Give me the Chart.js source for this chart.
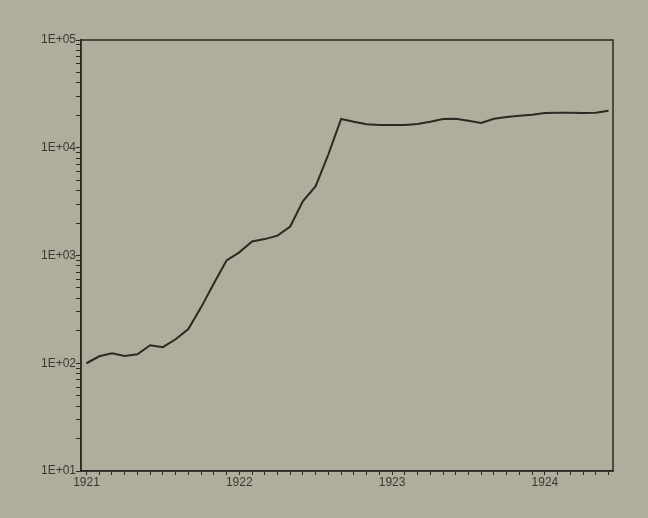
<!DOCTYPE html>
<html>
<head>
<meta charset="utf-8">
<script src="https://cdn.jsdelivr.net/npm/chart.js@4/dist/chart.umd.min.js"></script>
<style>
    html, body { margin: 0; padding: 0; background: #afad9b; }
    #wrap { width: 648px; height: 518px; position: relative; }
</style>
</head>
<body>
<div id="wrap"><canvas id="chart"></canvas></div>
<script>
// month index counted from Jan 1921
const yearLabels = ['1921', '1922', '1923', '1924'];
const months = [
    0, 1, 2, 3, 4, 5, 6, 7, 8, 9, 10, 11,
    12, 13, 14, 15, 16, 17, 18, 19, 20, 21, 22, 23,
    24, 25, 26, 27, 28, 29, 30, 31, 32, 33, 34, 35,
    36, 37, 38, 39, 40, 41
];
const values = [
    100, 116, 124, 117, 121, 147, 141, 167, 208, 330, 550, 900,
    1070, 1350, 1420, 1530, 1860, 3200, 4400, 8700, 18500, 17400, 16500, 16300,
    16300, 16300, 16600, 17400, 18500, 18600, 17800, 17000, 18600, 19300, 19800, 20200,
    21000, 21100, 21100, 21000, 21100, 22000
];
const decades = [10, 100, 1000, 10000, 100000];

const ink = '#2b2a22';
const font = { family: '"Liberation Sans", Arial, sans-serif', size: 12 };

// frame round the plot area
const framePlugin = {
    id: 'frame',
    afterDraw(chart) {
        const a = chart.chartArea;
        const ctx = chart.ctx;
        ctx.save();
        ctx.strokeStyle = ink;
        ctx.lineWidth = 1.5;
        ctx.strokeRect(a.left, a.top, a.right - a.left, a.bottom - a.top);
        ctx.restore();
    }
};

const ctx = document.getElementById('chart').getContext('2d');
new Chart(ctx, {
    type: 'line',
    data: {
        datasets: [{
            data: months.map((m, i) => ({ x: m, y: values[i] })),
            borderColor: ink,
            borderWidth: 2,
            pointRadius: 0,
            tension: 0,
            fill: false
        }]
    },
    options: {
        responsive: true,
        maintainAspectRatio: false,
        animation: false,
        layout: { padding: { left: 0, right: 35, top: 40, bottom: 0 } },
        plugins: {
            legend: { display: false },
            tooltip: { enabled: false }
        },
        scales: {
            x: {
                type: 'linear',
                min: -0.43,
                max: 41.35,
                afterBuildTicks: s => { s.ticks = months.map(v => ({ value: v })); },
                afterFit: s => { s.height = 47; },
                grid: { drawOnChartArea: false, drawTicks: true, tickLength: 4, color: ink, lineWidth: 1 },
                border: { display: true, color: ink, width: 1.5 },
                ticks: {
                    autoSkip: false,
                    maxRotation: 0,
                    padding: 0,
                    color: '#3a3a32',
                    font: font,
                    callback: v => (v % 12 === 0 ? yearLabels[v / 12] : '')
                }
            },
            y: {
                type: 'logarithmic',
                min: 10,
                max: 100000,
                afterBuildTicks: s => {
                    const t = [];
                    decades.forEach((d, i) => {
                        t.push({ value: d });
                        if (i < decades.length - 1) {
                            for (let k = 2; k <= 9; k++) t.push({ value: d * k });
                        }
                    });
                    s.ticks = t;
                },
                afterFit: s => { s.width = 81; },
                grid: { drawOnChartArea: false, drawTicks: true, tickLength: 5, color: ink, lineWidth: 1 },
                border: { display: true, color: ink, width: 1.5 },
                ticks: {
                    autoSkip: false,
                    padding: 0,
                    color: '#3a3a32',
                    font: font,
                    callback: v => {
                        const e = Math.log10(v);
                        if (Math.abs(e - Math.round(e)) > 1e-9) return '';
                        return '1E+0' + Math.round(e);
                    }
                }
            }
        }
    },
    plugins: [framePlugin]
});
</script>
</body>
</html>
